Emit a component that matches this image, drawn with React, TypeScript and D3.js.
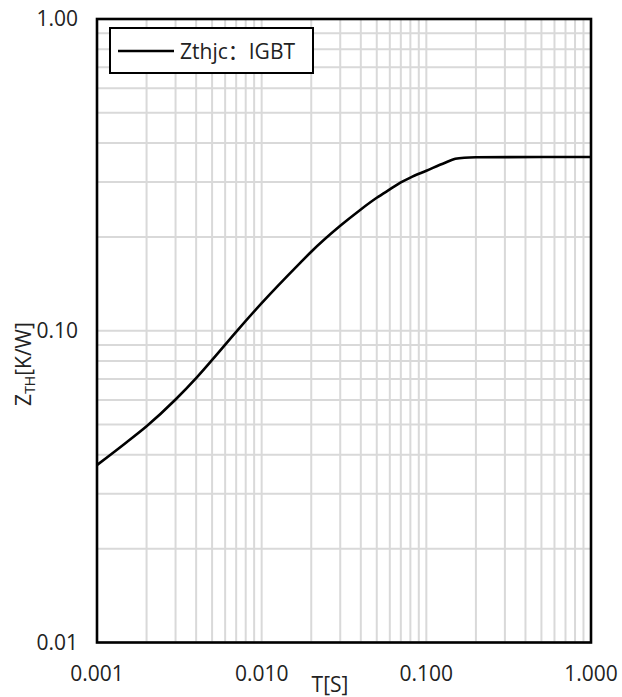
import React from 'react';
import * as d3 from 'd3';

const timeS = [0.001, 0.0015, 0.002, 0.003, 0.004, 0.005, 0.007, 0.01, 0.0172, 0.02, 0.03, 0.04, 0.05, 0.06, 0.07, 0.08, 0.1, 0.13, 0.15, 0.17, 0.2, 0.5, 1.0];
const zthIGBT = [0.0371, 0.04375, 0.0494, 0.0602, 0.0705, 0.0806, 0.0992, 0.1226, 0.1654, 0.1792, 0.217, 0.245, 0.267, 0.284, 0.299, 0.31, 0.326, 0.346, 0.356, 0.359, 0.36, 0.361, 0.361];

const xTickValues = [0.001, 0.01, 0.1, 1];
const xTickLabels = ['0.001', '0.010', '0.100', '1.000'];
const yTickValues = [0.01, 0.1, 1];
const yTickLabels = ['0.01', '0.10', '1.00'];
const legendLabel = 'Zthjc：IGBT';
const xTitle = 'T[S]';

const W = 622;
const H = 697;
const m = { left: 97, right: 591, top: 19, bottom: 642.5 };
const FONT = '"Open Sans", "Noto Sans CJK SC", sans-serif';
const GRID = '#d9d9d9';

export default function App() {
  const x = d3.scaleLog().domain([0.001, 1]).range([m.left, m.right]);
  const y = d3.scaleLog().domain([0.01, 1]).range([m.bottom, m.top]);
  const xGrid = x.ticks();
  const yGrid = y.ticks();
  const pts: [number, number][] = timeS.map((t, i) => [x(t), y(zthIGBT[i])]);
  const line = d3.line().curve(d3.curveMonotoneX)(pts) || '';

  return (
    <svg width={W} height={H} style={{ position: 'absolute', left: 0, top: 0, background: '#fff' }} fontFamily={FONT}>
      <rect x={0} y={0} width={W} height={H} fill="#fff" />
      {xGrid.map((v, i) => (
        <line key={'gx' + i} x1={x(v)} x2={x(v)} y1={m.top} y2={m.bottom} stroke={GRID} strokeWidth={2} />
      ))}
      {yGrid.map((v, i) => (
        <line key={'gy' + i} x1={m.left} x2={m.right} y1={y(v)} y2={y(v)} stroke={GRID} strokeWidth={2} />
      ))}
      <path d={line} fill="none" stroke="#000" strokeWidth={2.6} strokeLinejoin="round" />
      <rect x={m.left} y={m.top} width={m.right - m.left} height={m.bottom - m.top} fill="none" stroke="#000" strokeWidth={2.6} />
      {xTickValues.map((v, i) => (
        <text key={'xt' + i} x={x(v)} y={681} textAnchor="middle" fontSize={21} fill="#222">{xTickLabels[i]}</text>
      ))}
      {yTickValues.map((v, i) => (
        <text key={'yt' + i} x={78} y={y(v)} dy="0.35em" textAnchor="end" fontSize={21} fill="#222">{yTickLabels[i]}</text>
      ))}
      <text x={330} y={692} textAnchor="middle" fontSize={21} fill="#222">{xTitle}</text>
      <text transform="translate(31,364) rotate(-90)" textAnchor="middle" fontSize={21} fill="#222">
        Z<tspan fontSize={14} dy={4}>TH</tspan><tspan dy={-4}>[K/W]</tspan>
      </text>
      <g>
        <rect x={110} y={28} width={203} height={45} fill="#fff" stroke="#000" strokeWidth={2} />
        <line x1={118} x2={174} y1={51} y2={51} stroke="#000" strokeWidth={2.6} />
        <text x={180} y={58.5} fontSize={21} fill="#222">{legendLabel}</text>
      </g>
    </svg>
  );
}
